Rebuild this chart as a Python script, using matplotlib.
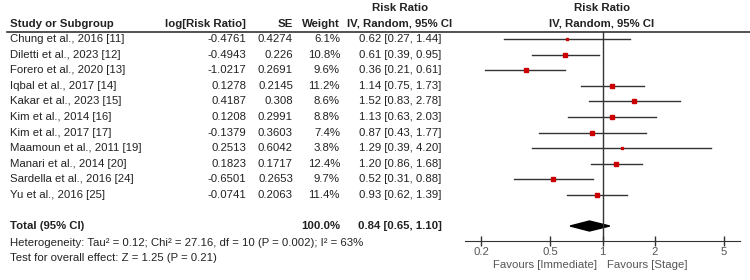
import matplotlib
matplotlib.use("Agg")
import matplotlib.pyplot as plt

plt.rcParams['font.family'] = ['Liberation Sans', 'DejaVu Sans']

#----DATA----#
studies = ['Chung et al., 2016 [11]', 'Diletti et al., 2023 [12]', 'Forero et al., 2020 [13]',
           'Iqbal et al., 2017 [14]', 'Kakar et al., 2023 [15]', 'Kim et al., 2014 [16]',
           'Kim et al., 2017 [17]', 'Maamoun et al., 2011 [19]', 'Manari et al., 2014 [20]',
           'Sardella et al., 2016 [24]', 'Yu et al., 2016 [25]']
log_rr = ['-0.4761', '-0.4943', '-1.0217', '0.1278', '0.4187', '0.1208',
          '-0.1379', '0.2513', '0.1823', '-0.6501', '-0.0741']
se = ['0.4274', '0.226', '0.2691', '0.2145', '0.308', '0.2991',
      '0.3603', '0.6042', '0.1717', '0.2653', '0.2063']
weight = [6.1, 10.8, 9.6, 11.2, 8.6, 8.8, 7.4, 3.8, 12.4, 9.7, 11.4]
rr = [0.62, 0.61, 0.36, 1.14, 1.52, 1.13, 0.87, 1.29, 1.20, 0.52, 0.93]
ci_lo = [0.27, 0.39, 0.21, 0.75, 0.83, 0.63, 0.43, 0.39, 0.86, 0.31, 0.62]
ci_hi = [1.44, 0.95, 0.61, 1.73, 2.78, 2.03, 1.77, 4.20, 1.68, 0.88, 1.39]
total_weight = '100.0%'
total_rr, total_lo, total_hi = 0.84, 0.65, 1.10
ticks = [0.2, 0.5, 1, 2, 5]
tick_labels = ['0.2', '0.5', '1', '2', '5']

W, H = 750, 280
fig = plt.figure(figsize=(W / 100, H / 100), dpi=100)

# table axes in pixel coords
tab = fig.add_axes([0, 0, 1, 1])
tab.set_xlim(0, W)
tab.set_ylim(H, 0)
tab.axis('off')

txt = '#222222'
fs = 8.2
row_y = [39 + i * 15.6 for i in range(len(studies))]

# headers
tab.text(400, 8, 'Risk Ratio', ha='center', va='center', fontsize=fs, weight='bold', color=txt)
tab.text(602, 8, 'Risk Ratio', ha='center', va='center', fontsize=fs, weight='bold', color=txt)
tab.text(10, 24, 'Study or Subgroup', ha='left', va='center', fontsize=fs, weight='bold', color=txt)
tab.text(246, 24, 'log[Risk Ratio]', ha='right', va='center', fontsize=fs, weight='bold', color=txt)
tab.text(293, 24, 'SE', ha='right', va='center', fontsize=fs, weight='bold', color=txt)
tab.text(340, 24, 'Weight', ha='right', va='center', fontsize=fs, weight='bold', color=txt)
tab.text(400, 24, 'IV, Random, 95% CI', ha='center', va='center', fontsize=fs, weight='bold', color=txt)
tab.text(602, 24, 'IV, Random, 95% CI', ha='center', va='center', fontsize=fs, weight='bold', color=txt)
tab.plot([7, W], [32, 32], color='#333333', lw=1.2)

for i, y in enumerate(row_y):
    tab.text(10, y, studies[i], ha='left', va='center', fontsize=fs, color=txt)
    tab.text(246, y, log_rr[i], ha='right', va='center', fontsize=fs, color=txt)
    tab.text(293, y, se[i], ha='right', va='center', fontsize=fs, color=txt)
    tab.text(340, y, f'{weight[i]:.1f}%', ha='right', va='center', fontsize=fs, color=txt)
    tab.text(400, y, f'{rr[i]:.2f} [{ci_lo[i]:.2f}, {ci_hi[i]:.2f}]', ha='center', va='center',
             fontsize=fs, color=txt)

tot_y = 226
tab.text(10, tot_y, 'Total (95% CI)', ha='left', va='center', fontsize=fs, weight='bold', color=txt)
tab.text(340, tot_y, total_weight, ha='right', va='center', fontsize=fs, weight='bold', color=txt)
tab.text(400, tot_y, f'{total_rr:.2f} [{total_lo:.2f}, {total_hi:.2f}]', ha='center', va='center',
         fontsize=fs, weight='bold', color=txt)
tab.text(10, 243, 'Heterogeneity: Tau² = 0.12; Chi² = 27.16, df = 10 (P = 0.002); I² = 63%',
         ha='left', va='center', fontsize=fs, color=txt)
tab.text(10, 258, 'Test for overall effect: Z = 1.25 (P = 0.21)',
         ha='left', va='center', fontsize=fs, color=txt)

#----FOREST PLOT----#
x0, x1 = 465, 740
ax = fig.add_axes([x0 / W, 0, (x1 - x0) / W, 1])
ax.set_xscale('log')
ax.set_xlim(0.161, 6.2)
ax.set_ylim(H, 0)
ax.patch.set_alpha(0)
for s in ['top', 'left', 'right']:
    ax.spines[s].set_visible(False)
ax.spines['bottom'].set_position(('data', 241))
ax.spines['bottom'].set_color('#333333')
ax.set_yticks([])
ax.set_xticks(ticks)
ax.set_xticklabels(tick_labels)
ax.minorticks_off()
ax.tick_params(axis='x', direction='inout', length=7, width=1, color='#333333',
               labelsize=fs, labelcolor='#555555', pad=1)

ax.plot([1, 1], [32, 241], color='#333333', lw=1)
for i, y in enumerate(row_y):
    ax.plot([ci_lo[i], ci_hi[i]], [y, y], color='#333333', lw=1)
    ax.plot(rr[i], y, marker='s', color='#cc0000', ms=0.6 + weight[i] * 0.24, mec='#cc0000', lw=0)

ax.fill([total_lo, total_rr, total_hi, total_rr], [tot_y, tot_y - 5, tot_y, tot_y + 5], color='black')

ax.text(597, 265, 'Favours [Immediate]', transform=tab.transData, ha='right', va='center',
        fontsize=fs, color='#555555')
ax.text(607, 265, 'Favours [Stage]', transform=tab.transData, ha='left', va='center',
        fontsize=fs, color='#555555')

fig.savefig('out.png', dpi=100)
